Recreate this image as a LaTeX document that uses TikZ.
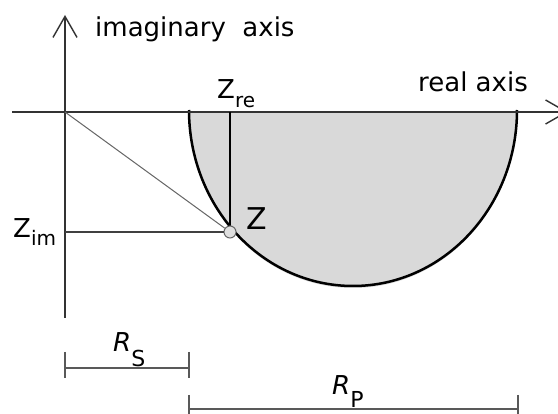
\documentclass[tikz,border=0pt]{standalone}
\usepackage{fontspec}
\setmainfont{DejaVu Sans}
\usetikzlibrary{arrows.meta}
\newcommand{\fsz}[1]{\fontsize{#1}{#1}\selectfont}

\begin{document}
\begin{tikzpicture}[x=1pt,y=-1pt,>={Straight Barb[length=21pt,width=24pt]},
  lbl/.style={inner sep=0pt,anchor=base west,font=\fsz{26}},
  axis/.style={draw=black!80,line width=1.4pt},
  bar/.style={draw=black!65,line width=1.5pt},
  lowr/.style={\fsz{20}\raisebox{-#1pt}}]
\useasboundingbox (0,0) rectangle (558,414);
\clip (0,0) rectangle (558,414);
% half circle of the impedance locus
\fill[gray!30] (189,112) arc[start angle=180,end angle=0,x radius=164,y radius=176];
\draw[line width=2.5pt] (189,110) arc[start angle=180,end angle=0,x radius=164,y radius=176];
% axes
\coordinate (O) at (65,112);
\coordinate (xl) at (12,112);
\coordinate (xr) at (568,112);
\coordinate (yb) at (65,318);
\coordinate (yt) at (65,15);
\draw[axis,->] (xl) -- (xr);
\draw[axis,->] (yb) -- (yt);
\node[lbl] (ima) at (95,37) {imaginary\ \ axis};
\node[lbl] (rea) at (418,92) {real axis};
% point Z and its projections
\node[circle,draw=black!60,fill=gray!25,line width=1pt,minimum size=12pt,inner sep=0pt] (zpt) at (230,232) {};
\coordinate (re) at (230,112);
\coordinate (im) at (65,232);
\draw[draw=black!60,line width=1pt] (O) -- (zpt);
\draw[line width=1.4pt] (re) -- (zpt);
\draw[draw=black!75,line width=1.4pt] (im) -- (zpt);
\node[lbl] (zre) at (217,99) {Z{\fsz{20}\raisebox{-9pt}{re}}};
\node[lbl] (zim) at (13,238) {Z{\fsz{20}\raisebox{-8pt}{im}}};
\node[lbl,font=\fsz{30}] (zlb) at (246,230) {Z};
% resistances
\coordinate (s1) at (65,368);
\coordinate (s2) at (189,368);
\coordinate (p1) at (189,409);
\coordinate (p2) at (518,409);
\draw[bar] (s1) -- (s2);
\draw[bar] ([yshift=16pt]s1) -- ([yshift=-10pt]s1);
\draw[bar] ([yshift=16pt]s2) -- ([yshift=-10pt]s2);
\draw[bar] (p1) -- (p2);
\draw[bar] ([yshift=14pt]p1) -- ([yshift=-11pt]p1);
\draw[bar] ([yshift=14pt]p2) -- ([yshift=-11pt]p2);
\node[lbl] (rs) at (113,352) {\textit{R}{\fsz{22}\raisebox{-15pt}{S}}};
\node[lbl] (rp) at (332,395) {\textit{R}{\fsz{22}\raisebox{-13pt}{P}}};
\end{tikzpicture}
\end{document}
